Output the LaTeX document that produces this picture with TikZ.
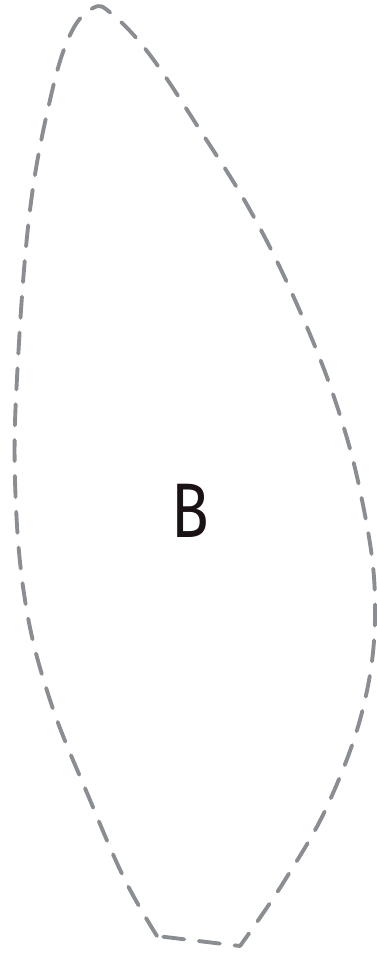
\documentclass[tikz,border=0pt]{standalone}
\usepackage{fontspec}
\setmainfont{Fira Sans}
\usepackage{xcolor}
\usetikzlibrary{positioning}
\definecolor{outline}{HTML}{8a8d91}
\definecolor{ink}{HTML}{1a1214}

\begin{document}
\begin{tikzpicture}[x=0.01cm,y=-0.01cm,
  region/.style={draw=outline,line width=1.1pt,line cap=round,line join=round,dash pattern=on 6pt off 4.2pt},
  tag/.style={font=\fontsize{22}{24}\selectfont,text=ink,inner sep=0pt,xscale=0.8}]
  \useasboundingbox (0,0) rectangle (377,957);
  % leaf-shaped set
  \draw[region] plot[smooth,tension=0.65] coordinates {(157,936) (125,880) (90,800) (50,700) (25,600) (15,480) (18,360) (30,210) (50,100) (70,35) (93,8) (112,14) (150,55) (200,130) (250,210) (295,300) (335,400) (362,500) (375,600) (365,700) (330,800) (285,880) (240,946)} -- (157,936) -- cycle;
  \node[tag] (b) at (190,511) {B};
\end{tikzpicture}
\end{document}
